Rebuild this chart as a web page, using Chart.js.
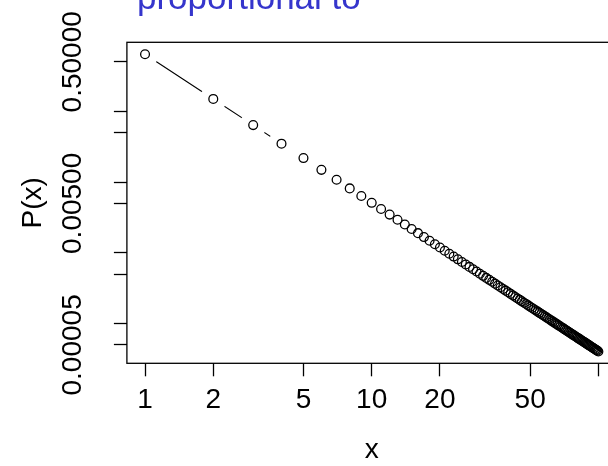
<!DOCTYPE html>
<html>
<head>
<meta charset="utf-8">
<script src="https://cdn.jsdelivr.net/npm/chart.js@4/dist/chart.umd.min.js"></script>
<style>
  html, body { margin: 0; padding: 0; background: #fff; }
  #wrap { position: relative; width: 608px; height: 466px; overflow: hidden; background: #fff; }
  #c { position: absolute; left: 0; top: 0; }
  #title { position: absolute; left: 137px; top: -21px; font-family: 'Liberation Sans', Arial, sans-serif;
           font-size: 35px; line-height: 35px; color: #3535CC; white-space: nowrap; }
</style>
</head>
<body>
<div id="wrap">
  <canvas id="c" width="640" height="466" style="width:640px;height:466px"></canvas>
  <div id="title">proportional to</div>
</div>
<script>
// ---- data ----
const xValues = [1,2,3,4,5,6,7,8,9,10,11,12,13,14,15,16,17,18,19,20,
  21,22,23,24,25,26,27,28,29,30,31,32,33,34,35,36,37,38,39,40,
  41,42,43,44,45,46,47,48,49,50,51,52,53,54,55,56,57,58,59,60,
  61,62,63,64,65,66,67,68,69,70,71,72,73,74,75,76,77,78,79,80,
  81,82,83,84,85,86,87,88,89,90,91,92,93,94,95,96,97,98,99,100];
const pValues = [0.6409,0.1495,0.0638,0.03487,0.02183,0.01488,0.01077,0.008134,0.006352,0.005091,
  0.004167,0.003471,0.002934,0.002511,0.002173,0.001897,0.001671,0.001482,0.0013225,0.0011875,
  0.0010718,0.0009721,0.0008854,0.0008098,0.0007432,0.0006845,0.0006323,0.0005858,0.0005442,0.0005068,
  0.0004731,0.0004426,0.0004149,0.0003897,0.0003667,0.0003456,0.0003263,0.0003085,0.0002921,0.000277,
  0.000263,0.00025,0.000238,0.0002267,0.0002163,0.0002065,0.0001974,0.0001889,0.0001809,0.0001733,
  0.0001663,0.0001596,0.0001534,0.0001475,0.0001419,0.0001366,0.0001316,0.0001269,0.0001224,0.0001182,
  0.0001142,0.0001103,0.0001067,0.0001032,0.0000999,0.0000968,0.0000938,0.0000909,0.0000881,0.0000855,
  0.000083,0.0000806,0.0000783,0.0000761,0.000074,0.000072,0.00007,0.0000681,0.0000663,0.0000646,
  0.0000629,0.0000613,0.0000598,0.0000583,0.0000569,0.0000555,0.0000542,0.0000529,0.0000516,0.0000504,
  0.0000493,0.0000482,0.0000471,0.000046,0.000045,0.0000441,0.0000431,0.0000422,0.0000413,0.0000404];
const xTickValues = [1, 2, 5, 10, 20, 50, 100];
const xTickLabels = ['1', '2', '5', '10', '20', '50', ''];
const yTickValues = [0.5, 0.1, 0.05, 0.01, 0.005, 0.001, 0.0005, 0.0001, 0.00005];
const yTickLabels = ['0.50000', '', '', '', '0.00500', '', '', '', '0.00005'];
const xTitle = 'x';
const yTitle = 'P(x)';

const FONT = "'Liberation Sans', Arial, sans-serif";
const points = xValues.map((x, i) => ({ x: x, y: pValues[i] }));

function labelFor(values, labels, v) {
  for (let i = 0; i < values.length; i++) {
    if (Math.abs(values[i] - v) / values[i] < 1e-6) return labels[i];
  }
  return '';
}

const framePlugin = {
  id: 'frame',
  afterDatasetsDraw(chart) {
    const { ctx, chartArea: a } = chart;
    ctx.save();
    ctx.strokeStyle = '#000';
    ctx.lineWidth = 1.3;
    ctx.strokeRect(a.left, a.top, a.right - a.left, a.bottom - a.top);
    ctx.restore();
  }
};

new Chart(document.getElementById('c'), {
  type: 'line',
  data: {
    datasets: [
      { // open circles
        data: points, showLine: false, pointRadius: 4.4, pointBorderWidth: 1.3,
        pointBorderColor: '#000', pointBackgroundColor: 'rgba(0,0,0,0)', borderColor: '#000'
      },
      { // connecting line with gaps around points (R type = "b")
        data: points, showLine: true, borderColor: '#000', borderWidth: 1.1, tension: 0,
        pointRadius: 13.5, pointBorderWidth: 0, pointBackgroundColor: '#fff', pointBorderColor: '#fff'
      }
    ]
  },
  options: {
    responsive: false, devicePixelRatio: 1, animation: false, events: [],
    layout: { padding: { top: 42.3, right: 23.5, bottom: 0, left: 0 } },
    plugins: { legend: { display: false }, tooltip: { enabled: false }, title: { display: false } },
    scales: {
      x: {
        type: 'logarithmic', position: 'bottom', min: 0.8318, max: 120.23, bounds: 'data',
        afterBuildTicks: s => { s.ticks = xTickValues.map(v => ({ value: v })); },
        afterFit: s => { s.height = 102.7; },
        grid: { display: true, drawOnChartArea: false, drawTicks: true, tickLength: 13, tickColor: '#000', tickWidth: 1.3 },
        border: { display: false },
        ticks: {
          autoSkip: false, maxRotation: 0, minRotation: 0, padding: 7.2, color: '#000',
          font: { family: FONT, size: 28 },
          callback: v => labelFor(xTickValues, xTickLabels, v)
        },
        title: { display: true, text: xTitle, color: '#000', font: { family: FONT, size: 28, lineHeight: 1 }, padding: { top: 0, bottom: 1.7 } }
      },
      y: {
        type: 'logarithmic', position: 'left', min: 0.00002748, max: 0.9441, bounds: 'data',
        afterBuildTicks: s => { s.ticks = yTickValues.map(v => ({ value: v })); },
        afterFit: s => { s.width = 126.9; },
        grid: { display: true, drawOnChartArea: false, drawTicks: true, tickLength: 13, tickColor: '#000', tickWidth: 1.3 },
        border: { display: false },
        ticks: {
          autoSkip: false, minRotation: 90, maxRotation: 90, crossAlign: 'center', padding: -10, color: '#000',
          font: { family: FONT, size: 28 },
          callback: v => labelFor(yTickValues, yTickLabels, v)
        },
        title: { display: true, text: yTitle, color: '#000', font: { family: FONT, size: 28, lineHeight: 1 }, padding: { top: 18.8, bottom: 0 } }
      }
    }
  },
  plugins: [framePlugin]
});
</script>
</body>
</html>
